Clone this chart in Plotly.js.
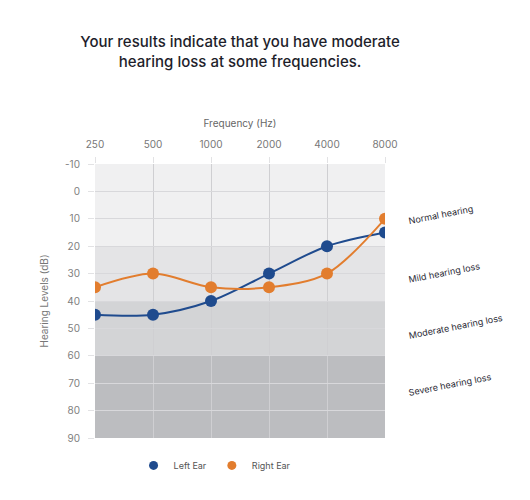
<!DOCTYPE html>
<html>
<head>
<meta charset="utf-8">
<script src="https://cdn.plot.ly/plotly-3.0.1.min.js"></script>
<style>
  html, body { margin: 0; padding: 0; background: #fff; }
  #chart { width: 530px; height: 500px; }
</style>
</head>
<body>
<div id="chart"></div>
<script>
// frequencies (Hz) and hearing levels (dB)
const freqs = ['250', '500', '1000', '2000', '4000', '8000'];
const leftEar = [45, 45, 40, 30, 20, 15];
const rightEar = [35, 30, 35, 35, 30, 10];

// y ticks (hyphen minus as in the original)
const yTickVals = [-10, 0, 10, 20, 30, 40, 50, 60, 70, 80, 90];
const yTickText = ['-10', '0', '10', '20', '30', '40', '50', '60', '70', '80', '90'];

// hearing-loss bands: [from, to, label]
const bandFrom = [-10, 20, 40, 60];
const bandTo = [20, 40, 60, 90];
const bandLabels = ['Normal hearing', 'Mild hearing loss', 'Moderate hearing loss', 'Severe hearing loss'];
const bandLabelAt = [8.5, 29.7, 49.4, 70.6];
const bandColors = ['#f0f0f1', '#e4e4e6', '#d3d4d6', '#bcbdc0'];

const font = 'Inter, "Noto Sans", sans-serif';
const blue = '#1f4b8e';
const orange = '#e27d2e';

function curve(name, y, color) {
  return {
    name: name, x: freqs, y: y, type: 'scatter', mode: 'lines+markers', showlegend: false,
    line: { color: color, width: 2, shape: 'spline', smoothing: 0.9 },
    marker: { color: color, size: 12 }
  };
}
// marker-only legend entries
function key(name, color) {
  return {
    name: name, x: [null], y: [null], type: 'scatter', mode: 'markers', showlegend: true,
    marker: { color: color, size: 9 }
  };
}

const traces = [
  curve('Left Ear', leftEar, blue),
  curve('Right Ear', rightEar, orange),
  key('Left Ear', blue),
  key('Right Ear', orange)
];

const shapes = bandFrom.map((y0, i) => ({
  type: 'rect', xref: 'paper', yref: 'y', x0: 0, x1: 1, y0: y0, y1: bandTo[i],
  fillcolor: bandColors[i], line: { width: 0 }, layer: 'below'
}));

const annotations = bandLabels.map((t, i) => ({
  text: t, xref: 'paper', yref: 'y', x: 1.069, y: bandLabelAt[i],
  xanchor: 'left', yanchor: 'middle',
  showarrow: false, textangle: -11,
  font: { family: font, size: 9, color: '#2a2a35' }
}));

const layout = {
  width: 530, height: 500,
  margin: { l: 95, r: 145, t: 164, b: 62 },
  paper_bgcolor: '#ffffff', plot_bgcolor: 'rgba(0,0,0,0)',
  font: { family: font, size: 11, color: '#777' },
  title: {
    text: 'Your results indicate that you have moderate<br>hearing loss at some frequencies.',
    x: 0.453, xanchor: 'center', y: 0.906, yanchor: 'middle',
    font: { family: font, size: 15, color: '#1e1e2b', weight: 500 }
  },
  xaxis: {
    type: 'category', side: 'top', range: [0, 5],
    showgrid: true, gridcolor: '#cfcfd2', gridwidth: 1,
    ticks: 'outside', ticklen: 6, tickcolor: '#e2e2e4', ticklabelstandoff: 5,
    zeroline: false, showline: false,
    tickfont: { size: 10, color: '#777' },
    title: { text: 'Frequency (Hz)', standoff: 8, font: { size: 10, color: '#666' } }
  },
  yaxis: {
    range: [90, -10], tickmode: 'array', tickvals: yTickVals, ticktext: yTickText,
    showgrid: true, gridcolor: '#d8d8db', gridwidth: 1,
    ticks: 'outside', ticklen: 6, tickcolor: '#e2e2e4', ticklabelstandoff: 6,
    zeroline: false, showline: false,
    tickfont: { size: 10, color: '#808080' },
    title: { text: 'Hearing Levels (dB)', standoff: 14, font: { size: 10, color: '#777' } }
  },
  showlegend: true,
  legend: {
    orientation: 'h', x: 0.414, xanchor: 'center', y: -0.1, yanchor: 'middle',
    font: { size: 9, color: '#555' }, itemwidth: 30
  },
  shapes: shapes,
  annotations: annotations
};

Plotly.newPlot('chart', traces, layout, { displayModeBar: false, staticPlot: true });
</script>
</body>
</html>
